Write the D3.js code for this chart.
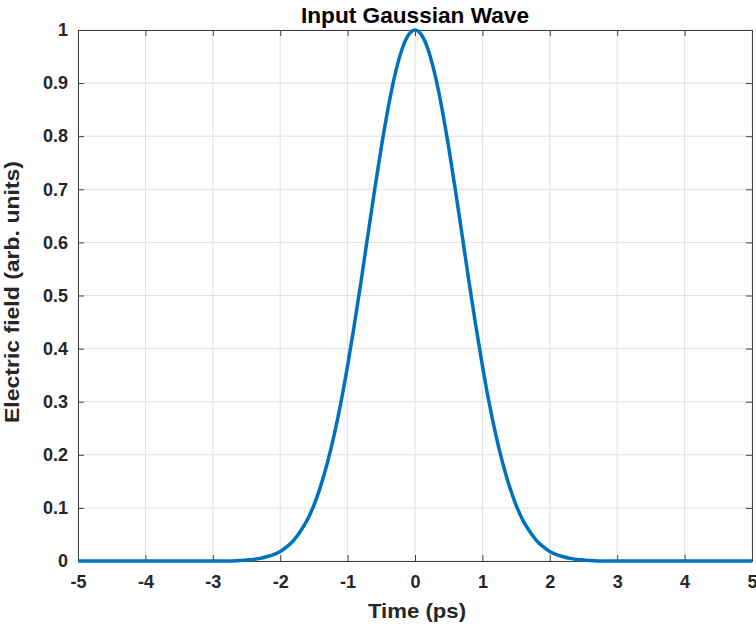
<!DOCTYPE html>
<html lang="en">
<head>
    <meta charset="UTF-8">
    <title>Input Gaussian Wave</title>
    <style>
        html, body {
            margin: 0;
            padding: 0;
            background-color: #ffffff;
            font-family: 'Liberation Sans', Arial, sans-serif;
        }
        .tick text {
            font-family: 'Liberation Sans', Arial, sans-serif;
            font-weight: bold;
            font-size: 18px;
            fill: #262626;
        }
    </style>
</head>
<body>
    <div id="graph"></div>
    <script src="https://d3js.org/d3.v7.min.js"></script>
    <script>
        // values
        const timePs = [
            -5, -3, -2.8, -2.6, -2.5, -2.4, -2.3, -2.2, -2.1, -2, -1.9, -1.8, -1.7, -1.6, -1.5, -1.4, -1.3, -1.2, -1.1, -1,
            -0.9, -0.8, -0.7, -0.6, -0.5, -0.4, -0.3, -0.2, -0.1, 0,
            0.1, 0.2, 0.3, 0.4, 0.5, 0.6, 0.7, 0.8, 0.9, 1,
            1.1, 1.2, 1.3, 1.4, 1.5, 1.6, 1.7, 1.8, 1.9, 2, 2.1, 2.2, 2.3, 2.4, 2.5, 2.6, 2.8, 3, 5
        ];
        const fieldValues = [
            0, 0, 0, 0.001, 0.002, 0.003, 0.005, 0.008, 0.012, 0.018, 0.027, 0.039, 0.056, 0.077, 0.105, 0.141, 0.185, 0.237, 0.298, 0.368,
            0.445, 0.527, 0.613, 0.698, 0.779, 0.852, 0.914, 0.961, 0.990, 1,
            0.990, 0.961, 0.914, 0.852, 0.779, 0.698, 0.613, 0.527, 0.445, 0.368,
            0.298, 0.237, 0.185, 0.141, 0.105, 0.077, 0.056, 0.039, 0.027, 0.018, 0.012, 0.008, 0.005, 0.003, 0.002, 0.001, 0, 0, 0
        ];
        const xTicks = [-5, -4, -3, -2, -1, 0, 1, 2, 3, 4, 5];
        const yTicks = [0, 0.1, 0.2, 0.3, 0.4, 0.5, 0.6, 0.7, 0.8, 0.9, 1];

        const W = 756, H = 629;
        const margin = {top: 30, left: 78, bottom: 68, right: 4};
        const width = W - margin.left - margin.right;
        const height = H - margin.top - margin.bottom;
        const axisColour = "#404040";

        const svg = d3.select("#graph")
            .append("svg")
            .attr("width", W)
            .attr("height", H);

        const g = svg.append("g")
            .attr("transform", `translate(${margin.left}, ${margin.top})`);

        const x = d3.scaleLinear().domain([-5, 5]).range([0, width]);
        const y = d3.scaleLinear().domain([0, 1]).range([height, 0]);

        // GRID
        g.append("g")
            .selectAll("line")
            .data(xTicks).enter()
            .append("line")
            .attr("x1", d => x(d)).attr("x2", d => x(d))
            .attr("y1", 0).attr("y2", height)
            .style("stroke", "#e0e0e0")
            .style("stroke-width", 1);
        g.append("g")
            .selectAll("line")
            .data(yTicks).enter()
            .append("line")
            .attr("x1", 0).attr("x2", width)
            .attr("y1", d => y(d)).attr("y2", d => y(d))
            .style("stroke", "#e0e0e0")
            .style("stroke-width", 1);

        // AXES (box with inward ticks), plain hyphen for negatives like the original
        const xAxis = d3.axisBottom(x).tickValues(xTicks).tickSize(-6).tickPadding(14).tickFormat(d => String(d));
        const yAxis = d3.axisLeft(y).tickValues(yTicks).tickSize(-6).tickPadding(10).tickFormat(d => String(d));
        const xTop = d3.axisTop(x).tickValues(xTicks).tickSize(-6).tickFormat("");
        const yRight = d3.axisRight(y).tickValues(yTicks).tickSize(-6).tickFormat("");

        const axes = [
            g.append("g").attr("transform", `translate(0, ${height})`).call(xAxis),
            g.append("g").call(yAxis),
            g.append("g").call(xTop),
            g.append("g").attr("transform", `translate(${width}, 0)`).call(yRight)
        ];
        axes.forEach(a => {
            a.select(".domain").style("stroke", axisColour).style("stroke-width", 1);
            a.selectAll(".tick line").style("stroke", axisColour).style("stroke-width", 1);
        });

        // CURVE
        const points = timePs.map((t, i) => [t, fieldValues[i]]);
        g.append("path")
            .datum(points)
            .attr("d", d3.line().x(d => x(d[0])).y(d => y(d[1])).curve(d3.curveMonotoneX))
            .style("fill", "none")
            .style("stroke", "#0072BD")
            .style("stroke-width", 3.5)
            .style("stroke-linejoin", "round");

        // TITLE & LABELS
        svg.append("text")
            .attr("x", margin.left + width / 2)
            .attr("y", 23)
            .attr("text-anchor", "middle")
            .attr("textLength", 228)
            .attr("lengthAdjust", "spacingAndGlyphs")
            .style("font-weight", "bold")
            .style("font-size", "21.5px")
            .style("fill", "#000")
            .text("Input Gaussian Wave");

        svg.append("text")
            .attr("x", 417)
            .attr("y", 618)
            .attr("text-anchor", "middle")
            .attr("textLength", 98)
            .attr("lengthAdjust", "spacingAndGlyphs")
            .style("font-weight", "bold")
            .style("font-size", "20.5px")
            .style("fill", "#262626")
            .text("Time (ps)");

        svg.append("text")
            .attr("transform", "translate(19, 292) rotate(-90)")
            .attr("text-anchor", "middle")
            .attr("textLength", 262)
            .attr("lengthAdjust", "spacingAndGlyphs")
            .style("font-weight", "bold")
            .style("font-size", "20.5px")
            .style("fill", "#262626")
            .text("Electric field (arb. units)");
    </script>
</body>
</html>
